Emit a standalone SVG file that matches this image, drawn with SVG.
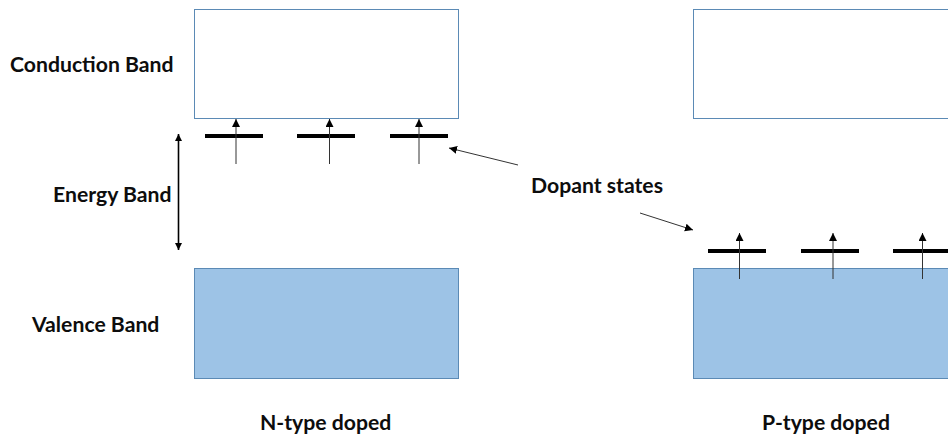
<svg xmlns="http://www.w3.org/2000/svg" width="948" height="437" viewBox="0 0 948 437">
<style>
.empty{fill:#fff;stroke:#5b8ab5;stroke-width:1}
.filled{fill:#9dc3e6;stroke:#5b8ab5;stroke-width:1}
.state{stroke:#000;stroke-width:4;fill:none}
.thin{stroke:#333;stroke-width:1;fill:none;marker-end:url(#tip)}
.dbl{stroke:#000;stroke-width:1.6;fill:none;marker-start:url(#tipS);marker-end:url(#tipE)}
text{font-family:"Lato","Open Sans","Liberation Sans",sans-serif;font-weight:700;font-size:21.2px;fill:#0d0d0d}
</style>
<defs>
<marker id="tip" markerUnits="userSpaceOnUse" markerWidth="9" markerHeight="9" refX="8" refY="4" orient="auto"><path d="M0 0L8 4L0 8Z" fill="#000"/></marker>
<marker id="tipE" markerUnits="userSpaceOnUse" markerWidth="8" markerHeight="8" refX="7" refY="3.5" orient="auto"><path d="M0 0L7 3.5L0 7Z" fill="#000"/></marker>
<marker id="tipS" markerUnits="userSpaceOnUse" markerWidth="8" markerHeight="8" refX="0" refY="3.5" orient="auto"><path d="M7 0L0 3.5L7 7Z" fill="#000"/></marker>
</defs>
<g id="n-conduction"><rect class="empty" x="194.500" y="9.500" width="264" height="109"/></g>
<g id="n-valence"><rect class="filled" x="194.500" y="268.500" width="264" height="110"/></g>
<g id="p-conduction"><rect class="empty" x="693.500" y="9.500" width="264" height="109"/></g>
<g id="p-valence"><rect class="filled" x="693.500" y="268.500" width="264" height="110"/></g>
<g id="n-states">
<path class="state" d="M205 136H263M297 136H355M390 136H448"/>
</g>
<g id="p-states">
<path class="state" d="M708 251H766M801 251H859M893 251H948"/>
</g>
<g id="connectors">
<path class="thin" d="M236 164V119"/>
<path class="thin" d="M329.500 164V119"/>
<path class="thin" d="M419 164V119"/>
<path class="thin" d="M739.500 279V233"/>
<path class="thin" d="M833 279V233"/>
<path class="thin" d="M922.500 279V233"/>
<path class="dbl" d="M178.500 134V250"/>
<path class="thin" d="M518 165L449 148"/>
<path class="thin" d="M640 213L693 230"/>
</g>
<g id="labels">
<text id="t-conduction" x="10" y="71.500">Conduction Band</text>
<text id="t-energy" x="53" y="202">Energy Band</text>
<text id="t-valence" x="32" y="331.500">Valence Band</text>
<text id="t-dopant" x="531" y="192.500">Dopant states</text>
<text id="t-n" x="260" y="430">N-type doped</text>
<text id="t-p" x="762" y="430">P-type doped</text>
</g>
</svg>
